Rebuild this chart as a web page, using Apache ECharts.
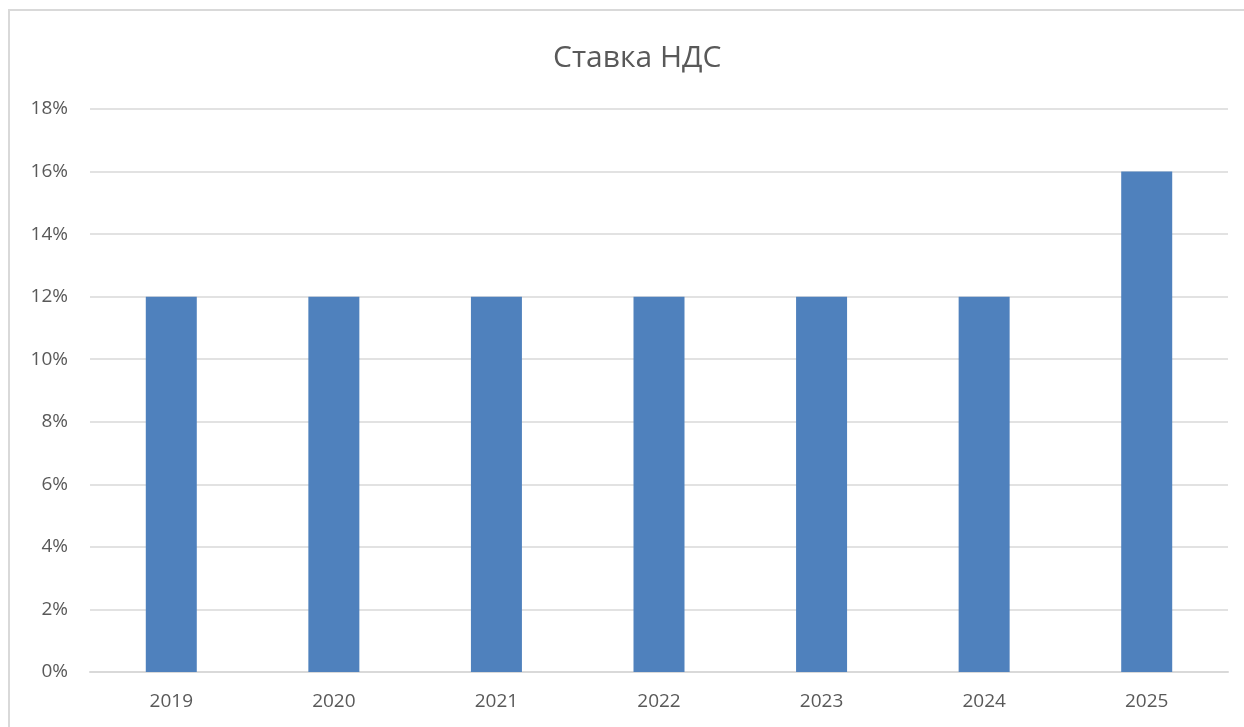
<!DOCTYPE html>
<html>
<head>
<meta charset="utf-8">
<script src="https://cdn.jsdelivr.net/npm/echarts@6/dist/echarts.min.js"></script>
<style>
  html, body { margin: 0; padding: 0; background: #fff; }
  #frame {
    position: absolute; left: 8px; top: 9px; right: 0; bottom: 0;
    border-left: 2px solid #d9d9d9; border-top: 2px solid #d9d9d9;
  }
  #chart { position: absolute; left: 0; top: 0; width: 1244px; height: 727px; }
</style>
</head>
<body>
<div id="frame"></div>
<div id="chart"></div>
<script>
// данные
const years = ['2019', '2020', '2021', '2022', '2023', '2024', '2025'];
const vatRate = [12, 12, 12, 12, 12, 12, 16];

const myChart = echarts.init(document.getElementById('chart'));

const option = {
  title: {
    text: 'Ставка НДС',
    left: 548,
    top: 38,
    textStyle: {
      fontFamily: 'Open Sans',
      fontSize: 30,
      fontWeight: 'normal',
      color: '#595959'
    }
  },
  grid: {
    left: 90,
    right: 16,
    top: 109,
    bottom: 55
  },
  xAxis: {
    type: 'category',
    data: years,
    axisTick: { show: false },
    axisLine: { lineStyle: { color: '#d9d9d9', width: 2 } },
    axisLabel: {
      color: '#595959',
      fontFamily: 'Open Sans',
      fontSize: 19,
      margin: 20
    }
  },
  yAxis: {
    type: 'value',
    min: 0,
    max: 18,
    interval: 2,
    axisLine: { show: false },
    axisTick: { show: false },
    splitLine: { lineStyle: { color: '#d9d9d9', width: 1.5 } },
    axisLabel: {
      color: '#595959',
      fontFamily: 'Open Sans',
      fontSize: 19,
      margin: 22,
      formatter: '{value}%'
    }
  },
  series: [
    {
      name: 'Ставка НДС',
      type: 'bar',
      data: vatRate,
      barWidth: 51,
      itemStyle: { color: '#4f81bd' }
    }
  ],
  animation: false
};

myChart.setOption(option);
</script>
</body>
</html>
